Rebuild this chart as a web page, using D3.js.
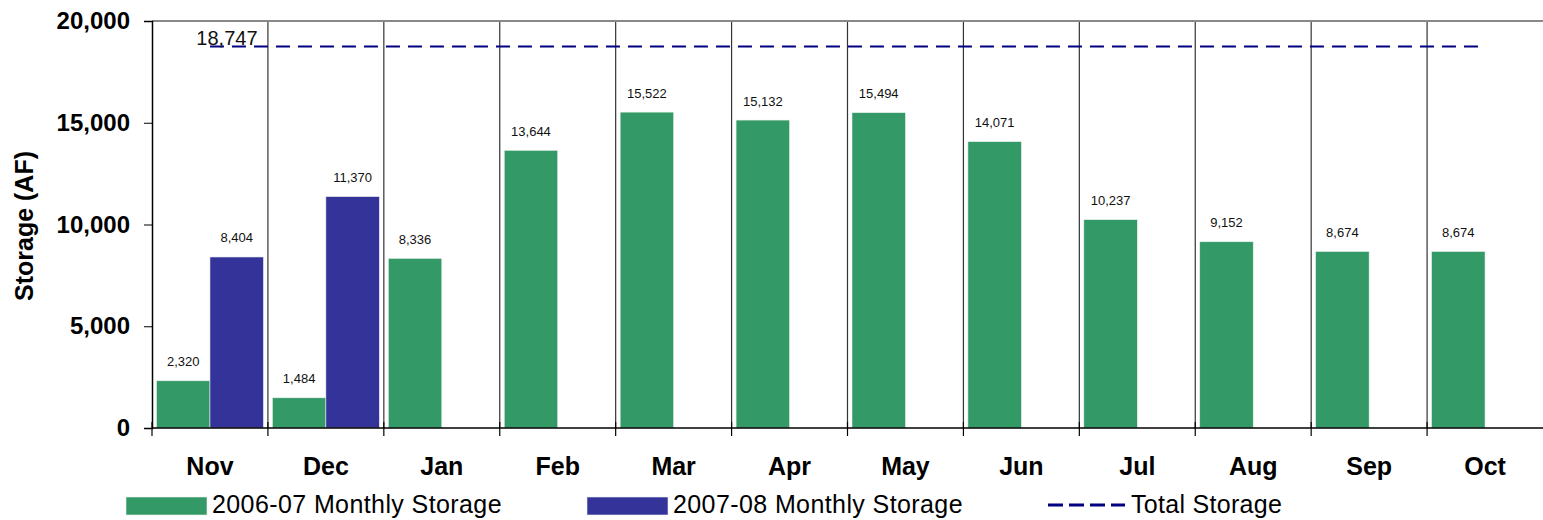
<!DOCTYPE html>
<html>
<head>
<meta charset="utf-8">
<script src="https://cdn.jsdelivr.net/npm/d3@7"></script>
<style>
html,body{margin:0;padding:0;background:#fff;}
svg{display:block;font-family:"Liberation Sans",Arial,sans-serif;}
</style>
</head>
<body>
<svg id="chart" width="1543" height="520"></svg>
<script>
const months = ["Nov","Dec","Jan","Feb","Mar","Apr","May","Jun","Jul","Aug","Sep","Oct"];
const series = ["2006-07 Monthly Storage","2007-08 Monthly Storage"];
const storage0607 = [2320,1484,8336,13644,15522,15132,15494,14071,10237,9152,8674,8674];
const storage0708 = [8404,11370,null,null,null,null,null,null,null,null,null,null];
const totalStorage = 18747;
const yTicks = [0,5000,10000,15000,20000];
const lineLabel = "Total Storage";

(function(){
const colors = ["#339966","#333399"];
const lineColor = "#000080";

const svg = d3.select("#chart");
const pL = 152, pR = 1543, pT = 21, pB = 428;

const x0 = d3.scaleBand().domain(months).range([pL, pR]).paddingInner(0).paddingOuter(0);
const x1 = d3.scaleBand().domain(series).range([0, x0.bandwidth()]).paddingInner(0).paddingOuter(0.084);
const y = d3.scaleLinear().domain([0,20000]).range([pB, pT]);

const fmt = d3.format(",");

// vertical gridlines at category boundaries
const bounds = months.slice(1).map(m => x0(m));
svg.append("g").selectAll("line").data(bounds).join("line")
  .attr("x1", d => d).attr("x2", d => d)
  .attr("y1", pT).attr("y2", pB)
  .attr("stroke", "#333").attr("stroke-width", 1.2);

// top border
svg.append("line").attr("x1", pL).attr("x2", pR).attr("y1", pT).attr("y2", pT)
  .attr("stroke", "#888").attr("stroke-width", 2);

// bars
const data = [];
months.forEach((m,i) => {
  [storage0607[i], storage0708[i]].forEach((v,j) => {
    if (v != null) data.push({m, s: series[j], v, j});
  });
});
svg.append("g").selectAll("rect").data(data).join("rect")
  .attr("x", d => x0(d.m) + x1(d.s))
  .attr("y", d => y(d.v))
  .attr("width", x1.bandwidth())
  .attr("height", d => y(0) - y(d.v))
  .attr("fill", d => colors[d.j])
  .attr("stroke", "#e8f0ea").attr("stroke-width", 0.6);

// data labels
svg.append("g").selectAll("text").data(data).join("text")
  .attr("x", d => x0(d.m) + x1(d.s) + x1.bandwidth()/2)
  .attr("y", d => y(d.v) - 14.5)
  .attr("text-anchor", "middle")
  .attr("font-size", 13)
  .attr("fill", "#111")
  .text(d => fmt(d.v));

// total storage dashed line
const lx1 = x0(months[0]) + x0.bandwidth()/2;
const lx2 = x0(months[months.length-1]) + x0.bandwidth()/2;
svg.append("line")
  .attr("x1", lx1).attr("x2", lx2)
  .attr("y1", y(totalStorage)).attr("y2", y(totalStorage))
  .attr("stroke", lineColor).attr("stroke-width", 2.2)
  .attr("stroke-dasharray", "14,8");
svg.append("text")
  .attr("x", lx1 + 17).attr("y", y(totalStorage) - 1)
  .attr("text-anchor", "middle").attr("font-size", 20).attr("fill", "#111")
  .text(fmt(totalStorage));

// y axis
const yAxis = d3.axisLeft(y).tickValues(yTicks).tickFormat(fmt).tickSize(8).tickPadding(14);
const gy = svg.append("g").attr("transform", `translate(${pL},0)`).call(yAxis);
gy.select(".domain").attr("stroke", "#000").attr("stroke-width", 1.5);
gy.selectAll(".tick line").attr("stroke", "#000");
gy.selectAll(".tick text").attr("font-size", 24).attr("font-weight", "bold").attr("fill", "#000")
  .attr("font-family", "Liberation Sans, Arial, sans-serif");

// x axis
const xAxis = d3.axisBottom(x0).tickSize(0).tickPadding(29);
const gx = svg.append("g").attr("transform", `translate(0,${pB})`).call(xAxis);
gx.select(".domain").remove();
gx.selectAll(".tick text").attr("font-size", 25).attr("font-weight", "bold").attr("fill", "#000")
  .attr("font-family", "Liberation Sans, Arial, sans-serif");
svg.append("line").attr("x1", pL).attr("x2", pR).attr("y1", pB).attr("y2", pB)
  .attr("stroke", "#000").attr("stroke-width", 1.5);
// x tick marks at boundaries
svg.append("g").selectAll("line").data([pL, ...bounds]).join("line")
  .attr("x1", d => d).attr("x2", d => d)
  .attr("y1", pB - 6).attr("y2", pB + 8)
  .attr("stroke", "#000").attr("stroke-width", 1.2);

// y title
svg.append("text")
  .attr("transform", "translate(33,226) rotate(-90)")
  .attr("text-anchor", "middle").attr("font-size", 25).attr("font-weight", "bold")
  .text("Storage (AF)");

// legend
const legY = 506;
const leg = svg.append("g");
const legItems = [
  {x: 126, type: "rect", color: colors[0], label: series[0]},
  {x: 587, type: "rect", color: colors[1], label: series[1]},
  {x: 1048, type: "line", color: lineColor, label: lineLabel}
];
legItems.forEach(it => {
  if (it.type === "rect") {
    leg.append("rect").attr("x", it.x).attr("y", legY - 9).attr("width", 81).attr("height", 18)
      .attr("fill", it.color).attr("stroke", "#e8f0ea").attr("stroke-width", 0.6);
    leg.append("text").attr("x", it.x + 86).attr("y", legY + 7).attr("font-size", 25)
      .attr("letter-spacing", 0.4).attr("fill", "#000").text(it.label);
  } else {
    leg.append("line").attr("x1", it.x).attr("x2", it.x + 77).attr("y1", legY - 1).attr("y2", legY - 1)
      .attr("stroke", it.color).attr("stroke-width", 3).attr("stroke-dasharray", "15,6");
    leg.append("text").attr("x", it.x + 83).attr("y", legY + 7).attr("font-size", 25)
      .attr("letter-spacing", 0.3).attr("fill", "#000").text(it.label);
  }
});
})();
</script>
</body>
</html>
